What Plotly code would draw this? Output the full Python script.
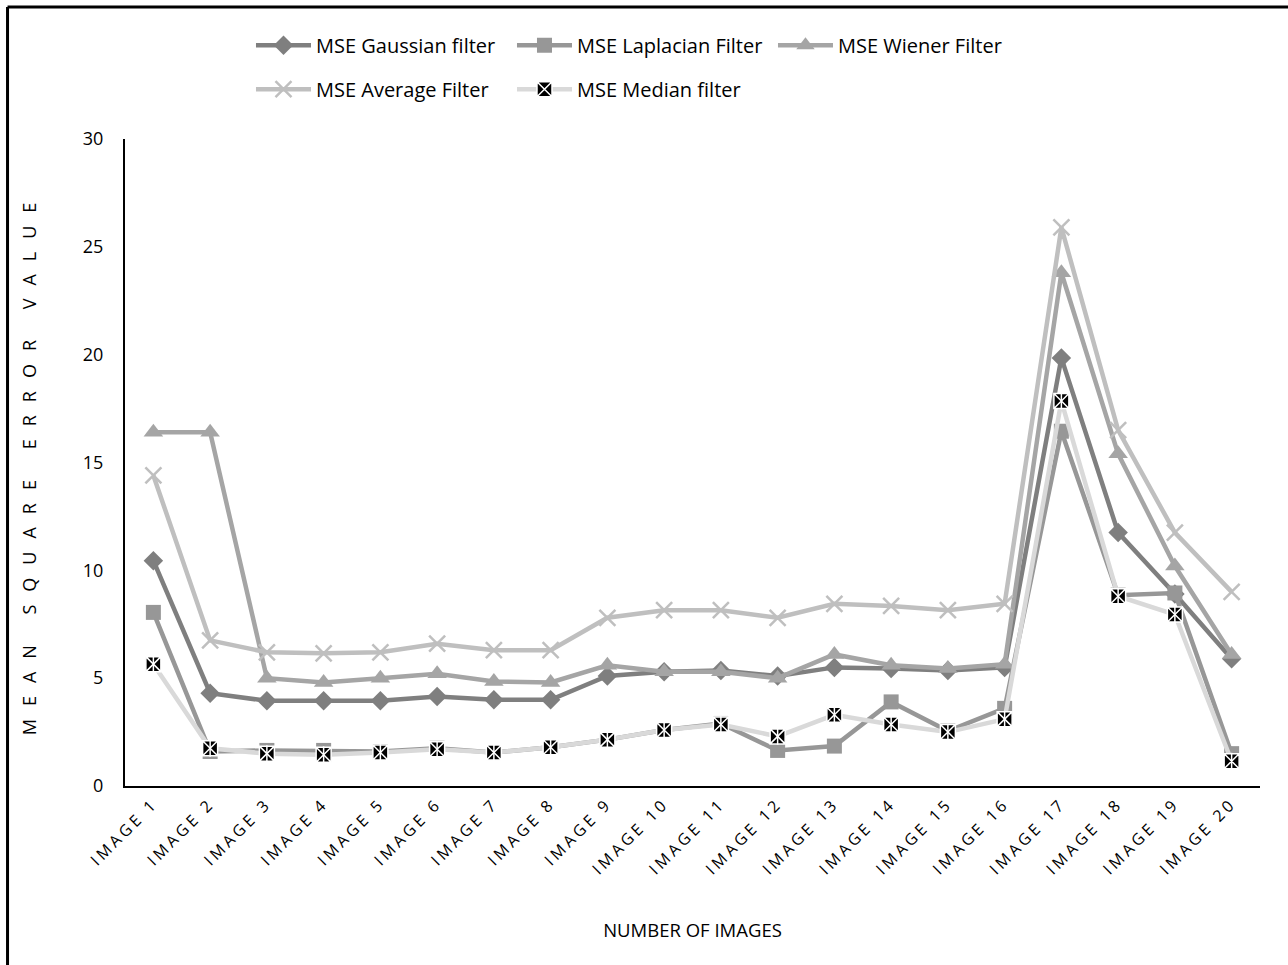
import plotly.graph_objects as go

# Categories and per-filter MSE values
images = [f"IMAGE {i}" for i in range(1, 21)]

mse_gaussian = [10.45, 4.3, 3.95, 3.95, 3.95, 4.15, 4.0, 4.0, 5.1, 5.3,
                5.35, 5.1, 5.5, 5.45, 5.35, 5.5, 19.85, 11.75, 8.9, 5.9]
mse_laplacian = [8.05, 1.6, 1.65, 1.65, 1.6, 1.75, 1.55, 1.8, 2.15, 2.6,
                 2.9, 1.65, 1.85, 3.9, 2.55, 3.6, 16.45, 8.85, 8.95, 1.5]
mse_wiener = [16.4, 16.4, 5.0, 4.8, 5.0, 5.2, 4.85, 4.8, 5.6, 5.3,
              5.3, 5.0, 6.1, 5.6, 5.45, 5.65, 23.8, 15.4, 10.2, 6.1]
mse_average = [14.4, 6.75, 6.2, 6.15, 6.2, 6.6, 6.3, 6.3, 7.8, 8.15,
               8.15, 7.8, 8.45, 8.35, 8.15, 8.45, 25.9, 16.5, 11.75, 9.0]
mse_median = [5.65, 1.75, 1.5, 1.45, 1.55, 1.7, 1.55, 1.8, 2.15, 2.6,
              2.85, 2.3, 3.3, 2.85, 2.5, 3.1, 17.85, 8.8, 7.95, 1.15]

y_ticks = [0, 5, 10, 15, 20, 25, 30]

FONT = "Open Sans"
LW = 4.5

fig = go.Figure()

fig.add_trace(go.Scatter(
    x=images, y=mse_gaussian, name="MSE Gaussian filter", mode="lines+markers",
    line=dict(color="#7f7f7f", width=LW),
    marker=dict(symbol="diamond", size=15, color="#7f7f7f"),
    legend="legend",
))
fig.add_trace(go.Scatter(
    x=images, y=mse_laplacian, name="MSE Laplacian Filter", mode="lines+markers",
    line=dict(color="#979797", width=LW),
    marker=dict(symbol="square", size=15, color="#979797"),
    legend="legend",
))
fig.add_trace(go.Scatter(
    x=images, y=mse_wiener, name="MSE Wiener Filter", mode="lines+markers",
    line=dict(color="#a5a5a5", width=LW),
    marker=dict(symbol="triangle-up", size=17, color="#a5a5a5"),
    legend="legend",
))
fig.add_trace(go.Scatter(
    x=images, y=mse_average, name="MSE Average Filter", mode="lines+markers",
    line=dict(color="#bfbfbf", width=LW),
    marker=dict(symbol="x-thin-open", size=16, line=dict(color="#bfbfbf", width=2.5)),
    legend="legend2",
))
fig.add_trace(go.Scatter(
    x=images, y=mse_median, name="MSE Median filter", mode="lines+markers",
    line=dict(color="#d9d9d9", width=LW),
    marker=dict(symbol="square-x", size=15, color="black",
                line=dict(color="white", width=1.5)),
    legend="legend2",
))
# vertical stroke that completes the star inside the median markers
fig.add_trace(go.Scatter(
    x=images, y=mse_median, mode="markers", showlegend=False, hoverinfo="skip",
    marker=dict(symbol="line-ns", size=12, line=dict(color="white", width=1.5)),
))

legend_common = dict(
    orientation="h", xanchor="left", yanchor="middle", traceorder="normal",
    font=dict(family=FONT, size=20, color="#000000"),
    itemwidth=55, entrywidth=191, entrywidthmode="pixels",
    bgcolor="rgba(0,0,0,0)",
)

fig.update_layout(
    width=1288, height=965, autosize=False,
    margin=dict(l=125, r=28, t=139, b=179, autoexpand=False),
    paper_bgcolor="white", plot_bgcolor="white",
    font=dict(family=FONT, color="#000000"),
    legend=dict(x=0.111, y=1.145, **legend_common),
    legend2=dict(x=0.111, y=1.077, **legend_common),
    xaxis=dict(
        type="category", range=[-0.5, 19.5],
        showline=True, linecolor="black", linewidth=2,
        showgrid=False, zeroline=False, ticks="",
        tickangle=-45, tickfont=dict(family=FONT, size=16),
        title=dict(text="NUMBER OF IMAGES", font=dict(family=FONT, size=18.5), standoff=66),
    ),
    yaxis=dict(
        range=[0, 30], tickvals=y_ticks,
        showline=True, linecolor="black", linewidth=2,
        showgrid=False, zeroline=False, ticks="",
        ticklabelstandoff=16,
        tickfont=dict(family=FONT, size=18),
        title=dict(text="MEAN SQUARE ERROR VALUE", font=dict(family=FONT, size=18), standoff=42),
    ),
    shapes=[
        dict(type="line", xref="paper", yref="paper", x0=-0.1035, x1=-0.1035,
             y0=-0.35, y1=1.204, line=dict(color="black", width=3)),
        dict(type="line", xref="paper", yref="paper", x0=-0.1035, x1=1.1,
             y0=1.204, y1=1.204, line=dict(color="black", width=3)),
    ],
)

# rotated labels are drawn with wider tracking
tracking_js = """
var gd = document.getElementById('{plot_id}');
function track() {
  gd.querySelectorAll('.xtick text').forEach(function (t) { t.style.letterSpacing = '3.5px'; });
  var yt = gd.querySelector('.ytitle');
  if (yt) { yt.style.letterSpacing = '13px'; }
}
track();
gd.on('plotly_afterplot', track);
"""

fig.write_html("out.html", post_script=tracking_js)
